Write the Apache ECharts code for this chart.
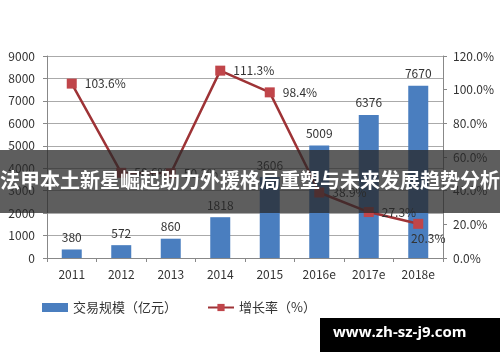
<!DOCTYPE html>
<html><head><meta charset="utf-8">
<script src="https://cdn.jsdelivr.net/npm/echarts@6/dist/echarts.min.js"></script>
<style>html,body{margin:0;padding:0;background:#fff}#c{width:500px;height:362px}</style>
</head><body><div id="c"></div>
<script>
const categories = ['2011','2012','2013','2014','2015','2016e','2017e','2018e'];
const volume = [380, 572, 860, 1818, 3606, 5009, 6376, 7670];
const growth = [103.6, 50.6, 50.3, 111.3, 98.4, 38.9, 27.3, 20.3];
const leftTicks = {min: 0, max: 9000, interval: 1000};
const rightTicks = {min: 0, max: 120, interval: 20};
const volumeName = '交易规模（亿元）';
const growthName = '增长率（%）';
const bannerText = '法甲本土新星崛起助力外援格局重塑与未来发展趋势分析';
const watermark = 'www.zh-sz-j9.com';

const font = "'Noto Sans CJK SC', 'Noto Sans', sans-serif";
const chart = echarts.init(document.getElementById('c'));
chart.setOption({
  animation: false,
  textStyle: {fontFamily: font},
  grid: {left: 47, right: 57, top: 56, bottom: 104},
  legend: {
    left: 37, top: 296, itemGap: 30, itemWidth: 26, itemHeight: 9,
    textStyle: {fontSize: 13, color: '#333', fontFamily: font},
    data: [{name: volumeName, icon: 'rect'}, {name: growthName}]
  },
  xAxis: {
    type: 'category', data: categories,
    axisLine: {lineStyle: {color: '#888'}},
    axisTick: {show: true, length: 4, lineStyle: {color: '#888'}},
    axisLabel: {fontSize: 12, color: '#333', margin: 10}
  },
  yAxis: [
    {type: 'value', min: leftTicks.min, max: leftTicks.max, interval: leftTicks.interval,
     axisLine: {show: true, lineStyle: {color: '#888'}},
     axisTick: {show: true, length: 4, lineStyle: {color: '#888'}},
     splitLine: {lineStyle: {color: '#aaa'}},
     axisLabel: {fontSize: 12, color: '#333', margin: 12, formatter: v => String(v)}},
    {type: 'value', min: rightTicks.min, max: rightTicks.max, interval: rightTicks.interval,
     position: 'right',
     axisLine: {show: true, lineStyle: {color: '#888'}},
     axisTick: {show: true, length: 4, lineStyle: {color: '#888'}},
     splitLine: {show: false},
     axisLabel: {fontSize: 12, color: '#333', margin: 10, formatter: v => v.toFixed(1) + '%'}}
  ],
  series: [
    {name: volumeName, type: 'bar', data: volume, barWidth: 20,
     itemStyle: {color: '#4a7ebf'},
     label: {show: true, position: 'top', fontSize: 12, color: '#333', distance: 6}},
    {name: growthName, type: 'line', yAxisIndex: 1,
     data: growth.map((v, i) => i === growth.length - 1
       ? {value: v, label: {position: 'bottom', offset: [10, -4]}}
       : {value: v}),
     symbol: 'rect', symbolSize: 10,
     lineStyle: {color: '#9e3336', width: 2.5},
     itemStyle: {color: '#c0454a'},
     label: {show: true, position: 'right', distance: 8, fontSize: 12, color: '#333',
             formatter: p => p.value.toFixed(1) + '%'}}
  ],
  graphic: [
    {type: 'rect', left: 0, top: 150, shape: {width: 500, height: 63},
     style: {fill: 'rgba(40,40,40,0.75)'}, z: 100},
    {type: 'text', left: 'center', top: 170, z: 101,
     style: {text: bannerText, fill: '#fff', font: "bold 20px 'Noto Sans CJK SC', sans-serif"}},
    {type: 'rect', left: 320, top: 318, shape: {width: 180, height: 34},
     style: {fill: '#000'}, z: 100},
    {type: 'text', left: 333, top: 325, z: 101,
     style: {text: watermark, fill: '#fff', font: "bold 15px 'Open Sans', 'DejaVu Sans', sans-serif"}}
  ]
});
</script></body></html>
